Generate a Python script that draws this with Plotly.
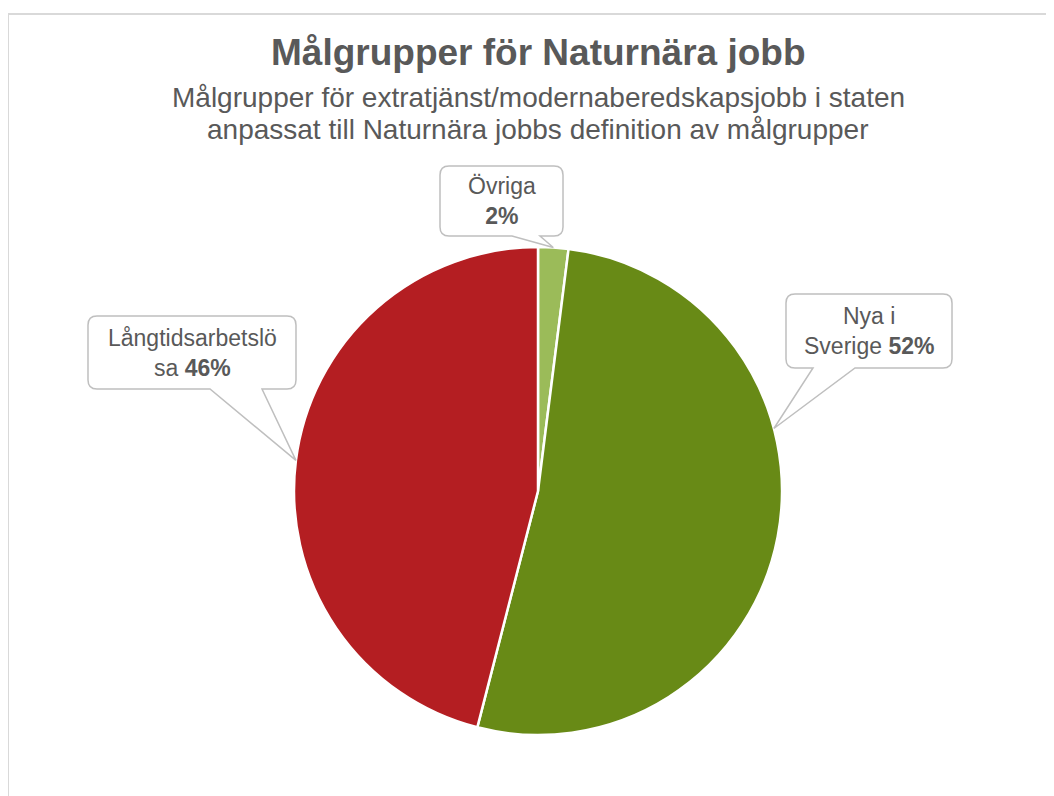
import plotly.graph_objects as go
import math

W, H = 1054, 796
OFF = 8  # page body offset

# ---- data ----
categories = ["Övriga", "Nya i Sverige", "Långtidsarbetslösa"]
values = [2, 52, 46]
colors = ["#9BBB59", "#688A16", "#B41E22"]
label_texts = ["Övriga<br><b>2%</b>", "Nya i<br>Sverige <b>52%</b>", "Långtidsarbetslö<br>sa <b>46%</b>"]

title = "Målgrupper för Naturnära jobb"
subtitle = ["Målgrupper för extratjänst/modernaberedskapsjobb i staten",
            "anpassat till Naturnära jobbs definition av målgrupper"]

# ---- layout geometry (pixels, in screen coordinates) ----
cx, cy, R = 538, 491, 244
boxes = [(440, 166, 563, 236), (786, 294, 952, 368), (88, 316, 296, 389)]
bases = [(512, 540), (813, 855), (210, 262)]
tip_frac = [0.5, 0.363, 0.5]

def px(x):
    return (x - OFF) / W

def py(y):
    return 1 - (y - OFF) / H

FONT = "Liberation Sans, Arial"
GREY = "#595959"

fig = go.Figure()
fig.add_trace(go.Pie(
    labels=categories, values=values, sort=False, direction="clockwise", rotation=0,
    marker=dict(colors=colors, line=dict(color="white", width=2.5)),
    textinfo="none", hoverinfo="label+percent", showlegend=False,
    domain=dict(x=[px(cx - R), px(cx + R)], y=[py(cy + R), py(cy - R)]),
))

total = sum(values)
shapes = []
annotations = []
cum = 0
for i, v in enumerate(values):
    ang = (cum + v * tip_frac[i]) / total * 2 * math.pi
    cum += v
    tx = cx + R * math.sin(ang)
    ty = cy - R * math.cos(ang)
    x0, y0, x1, y1 = boxes[i]
    b0, b1 = bases[i]
    r = 9
    pts = [
        ("M", (x0 + r, y0)), ("L", (x1 - r, y0)), ("Q", (x1, y0), (x1, y0 + r)),
        ("L", (x1, y1 - r)), ("Q", (x1, y1), (x1 - r, y1)),
        ("L", (b1, y1)), ("L", (tx, ty)), ("L", (b0, y1)),
        ("L", (x0 + r, y1)), ("Q", (x0, y1), (x0, y1 - r)),
        ("L", (x0, y0 + r)), ("Q", (x0, y0), (x0 + r, y0)),
    ]
    path = ""
    for p in pts:
        path += p[0] + " " + " ".join(f"{px(a):.5f},{py(b):.5f}" for a, b in p[1:]) + " "
    path += "Z"
    shapes.append(dict(type="path", xref="paper", yref="paper", path=path,
                       fillcolor="white", line=dict(color="#BFBFBF", width=1.5), layer="above"))
    annotations.append(dict(x=px((x0 + x1) / 2), y=py((y0 + y1) / 2), xref="paper", yref="paper",
                            text=label_texts[i], showarrow=False, xanchor="center", yanchor="middle",
                            font=dict(size=23, color=GREY, family=FONT), align="center"))

# chart frame
shapes.insert(0, dict(type="rect", xref="paper", yref="paper", x0=px(8), y0=-0.05, x1=1.05, y1=py(14),
                      line=dict(color="#D9D9D9", width=2), fillcolor="rgba(0,0,0,0)", layer="below"))

annotations.append(dict(x=px(538), y=py(52), xref="paper", yref="paper", text=f"<b>{title}</b>",
                        showarrow=False, xanchor="center", yanchor="middle",
                        font=dict(size=37, color=GREY, family=FONT)))
for j, line in enumerate(subtitle):
    annotations.append(dict(x=px(538), y=py(98 + 32 * j), xref="paper", yref="paper", text=line,
                            showarrow=False, xanchor="center", yanchor="middle",
                            font=dict(size=28, color=GREY, family=FONT)))

fig.update_layout(
    width=W, height=H, margin=dict(l=0, r=0, t=0, b=0),
    paper_bgcolor="white", plot_bgcolor="white",
    shapes=shapes, annotations=annotations,
)
fig.write_html("out.html")
